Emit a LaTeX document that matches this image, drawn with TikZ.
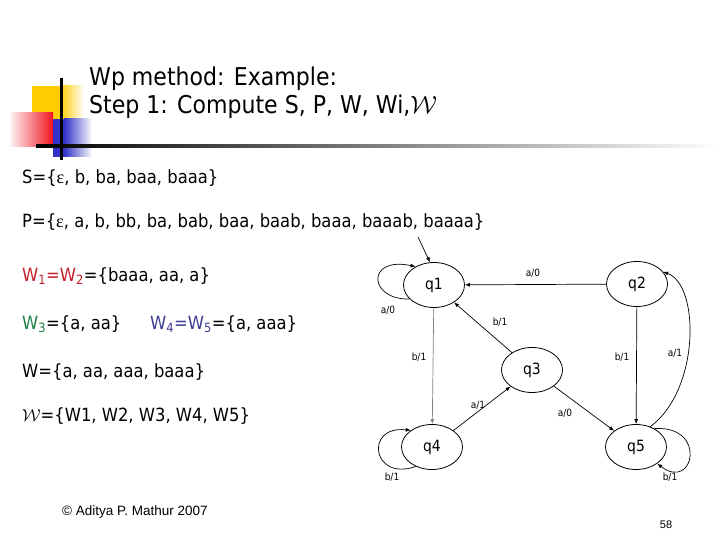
\documentclass[tikz,border=0pt]{standalone}
\usepackage{fontspec}
\setmainfont{DejaVu Sans}[FakeStretch=0.9]
\newfontfamily\arialfont{Liberation Sans}
\newfontfamily\epsfont{Liberation Serif}
\usetikzlibrary{shapes.geometric,arrows.meta}
\definecolor{decoyellow}{RGB}{255,204,0}
\definecolor{decored}{RGB}{240,20,30}
\definecolor{decoblue}{RGB}{50,50,200}
\definecolor{wred}{RGB}{200,30,40}
\definecolor{wgreen}{RGB}{30,130,70}
\definecolor{wblue}{RGB}{60,60,150}
\newcommand{\eps}{{\epsfont ε}}
\begin{document}
\begin{tikzpicture}[x=1pt,y=-1pt,
  state/.style={draw, ellipse, minimum width=61pt, minimum height=45pt, inner sep=0pt, line width=0.8pt, font=\fontsize{15.5}{18}\selectfont},
  edge/.style={line width=0.7pt, -{Latex[length=5pt,width=4pt]}},
  elabel/.style={font=\fontsize{10}{12}\selectfont, inner sep=0pt},
  body/.style={anchor=base west, inner sep=0pt, font=\fontsize{18.2}{22}\selectfont},
  title/.style={anchor=base west, inner sep=0pt, font=\fontsize{24.5}{28}\selectfont}]
\useasboundingbox (0,0) rectangle (720,540);
\fill[white] (0,0) rectangle (720,540);
% decoration
\fill[decoyellow] (32,86) rectangle (60.5,119);
\shade[left color=decoyellow, right color=white] (60,86) rectangle (84,119);
\shade[left color=decored!5, right color=decored] (10,113) rectangle (53,147);
\fill[decoblue] (53,119) rectangle (64.5,157);
\shade[left color=decoblue, right color=white] (64,119) rectangle (92,157);
\shade[left color=black, middle color=gray!75, right color=white] (36,144.5) rectangle (720,147.5);
\fill[black] (59.5,78) rectangle (62.5,160);
% title
\node[title] (t1) at (89,86) {Wp method: Example:};
\node[title] (t2) at (89,114) {Step 1: Compute S, P, W, Wi,$\mathcal{W}$};
% body
\node[body] (s) at (22,184) {S=\{\eps, b, ba, baa, baaa\}};
\node[body] (p) at (22,227) {P=\{\eps, a, b, bb, ba, bab, baa, baab, baaa, baaab, baaaa\}};
\node[body] (w12) at (22,281) {\textcolor{wred}{W\textsubscript{1}=W\textsubscript{2}}=\{baaa, aa, a\}};
\node[body] (w3) at (22,329) {\textcolor{wgreen}{W\textsubscript{3}}=\{a, aa\}};
\node[body] (w45) at (150,329) {\textcolor{wblue}{W\textsubscript{4}=W\textsubscript{5}}=\{a, aaa\}};
\node[body] (w) at (22,377) {W=\{a, aa, aaa, baaa\}};
\node[body] (ww) at (22,421) {$\mathcal{W}$=\{W1, W2, W3, W4, W5\}};
% footer
\node[font=\arialfont\fontsize{13.5}{16}\selectfont, inner sep=0pt] (foot) at (135,512) {\textcopyright{} Aditya P. Mathur 2007};
\node[font=\arialfont\fontsize{11}{13}\selectfont, inner sep=0pt] (pg) at (666,525) {58};
% states
\node[state] (q1) at (434,285) {q1};
\node[state] (q2) at (637,284) {q2};
\node[state] (q3) at (532,370) {q3};
\node[state] (q4) at (432,447) {q4};
\node[state] (q5) at (636,447) {q5};
% edges
\coordinate (init) at (418,237);
\draw[edge] (init) -- (q1.100);
\draw[edge] (q1.210) .. controls (368,300) and (366,256) .. (q1.135);
\draw[edge] (q2) -- (q1);
\draw[edge, draw=gray] (q1) -- (q4);
\draw[edge] (q3) -- (q1);
\draw[edge] (q4) -- (q3);
\draw[edge] (q3) -- (q5);
\draw[edge] (q2) -- (q5);
\draw[edge] (q5.55) .. controls (700,390) and (700,285) .. (q2.25);
\draw[edge] (q4.230) .. controls (372,482) and (364,425) .. (q4.142);
\draw[edge] (q5.45) .. controls (708,425) and (694,492) .. (q5.-38);
% labels
\node[elabel] (l1) at (388,310) {a/0};
\node[elabel] (l2) at (533,273) {a/0};
\node[elabel] (l3) at (500,322) {b/1};
\node[elabel] (l4) at (419,357) {b/1};
\node[elabel] (l5) at (622,357) {b/1};
\node[elabel] (l6) at (675,353) {a/1};
\node[elabel] (l7) at (478,405) {a/1};
\node[elabel] (l8) at (565,413) {a/0};
\node[elabel] (l9) at (392,477) {b/1};
\node[elabel] (l10) at (670,477) {b/1};
\end{tikzpicture}
\end{document}
